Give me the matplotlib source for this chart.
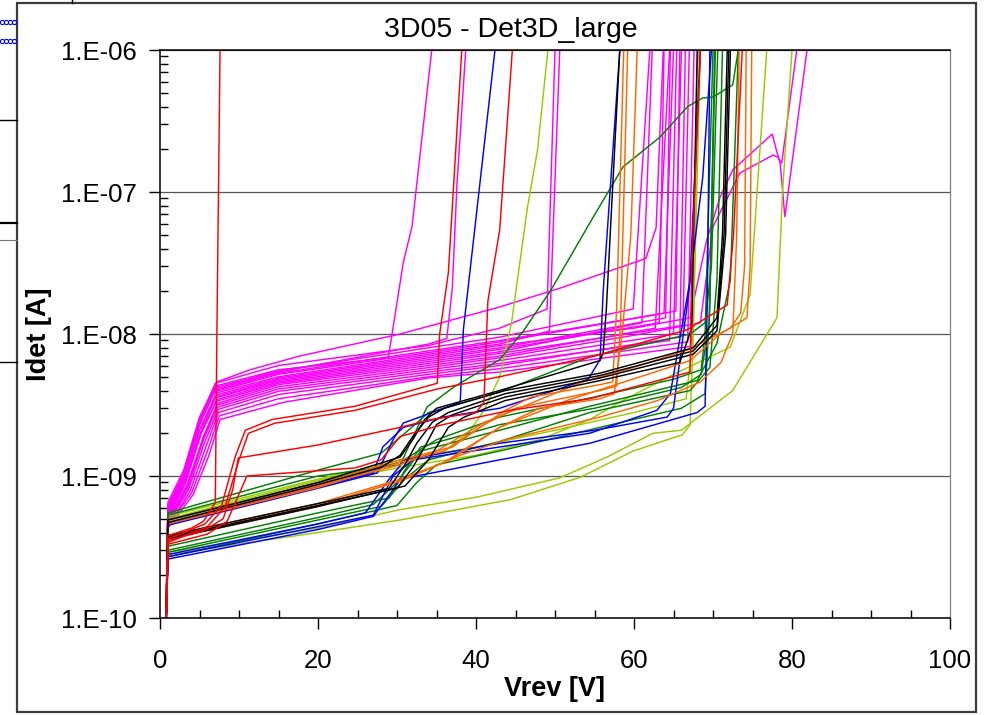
import numpy as np
import matplotlib
matplotlib.use('Agg')
import matplotlib.pyplot as plt
from matplotlib.lines import Line2D
from matplotlib.patches import Rectangle
from matplotlib.ticker import LogLocator, MultipleLocator, NullFormatter

plt.rcParams['font.family'] = ['Liberation Sans', 'DejaVu Sans']

# every sweep comes up from below the axis at ~0.7 V
START_V = 0.7
START_I = 6e-11

# curves as (Vrev [V], Idet [A]) points, one list per colour
magenta = [
    [(1, 6.5e-10), (3, 1.1e-9), (5, 2.6e-9), (7.2, 4.6e-9), (11.4, 5.6e-9), (17.7, 7.0e-9), (30.4, 1.0e-8),
     (43, 1.55e-8), (50.6, 2.1e-8), (61.5, 3.4e-8), (62.8, 5.6e-8), (63.7, 1e-6)],
    [(1, 6.0e-10), (3, 1.0e-9), (5, 2.4e-9), (7, 4.3e-9), (15, 5.6e-9), (28.9, 6.8e-9), (30.8, 3.2e-8),
     (31.9, 5.7e-8), (34.4, 1e-6)],
    [(1, 5.9e-10), (3, 1.0e-9), (5, 2.3e-9), (7, 4.1e-9), (15, 5.4e-9), (34, 8.5e-9), (36.3, 9.3e-9),
     (37, 2.1e-8), (37.6, 1.16e-7), (38.7, 1e-6)],
    [(1, 6.2e-10), (3, 1.05e-9), (5, 2.5e-9), (7, 4.5e-9), (15, 6.0e-9), (34, 8.3e-9), (43, 1.1e-8),
     (49, 1.5e-8), (50, 1e-6)],
    [(1, 5.6e-10), (3, 9.5e-10), (4.8, 2.2e-9), (6.8, 3.8e-9), (15, 5.0e-9), (34, 7.2e-9), (43, 8.5e-9),
     (49.3, 1.05e-8), (50.6, 1e-6)],
    [(1, 5.8e-10), (3, 1.0e-9), (5, 2.3e-9), (7, 4.2e-9), (15, 5.5e-9), (34, 8.0e-9), (43, 9.5e-9),
     (59.9, 1.5e-8), (62.0, 1e-6)],
    [(1, 5.0e-10), (3.2, 9.0e-10), (5.2, 2.0e-9), (7.2, 3.45e-9), (15, 4.6e-9), (34, 6.4e-9), (43, 7.5e-9),
     (61, 1.2e-8), (62.3, 1e-6)],
    [(1, 4.8e-10), (3.5, 8.5e-10), (5.5, 1.9e-9), (7.3, 3.25e-9), (15, 4.4e-9), (34, 6.0e-9), (43, 7.0e-9),
     (62.7, 1.1e-8), (64.5, 1e-6)],
    [(1, 5.3e-10), (3, 9.2e-10), (5, 2.1e-9), (7, 3.6e-9), (15, 4.8e-9), (34, 6.8e-9), (43, 8.0e-9),
     (64, 1.3e-8), (64.6, 1e-6)],
    [(1, 4.6e-10), (3.6, 8.0e-10), (5.6, 1.7e-9), (7.4, 2.95e-9), (15, 3.95e-9), (34, 5.4e-9), (43, 6.2e-9),
     (64.5, 9.0e-9), (65.4, 1e-6)],
    [(1, 5.5e-10), (2.8, 9.5e-10), (4.8, 2.2e-9), (6.8, 3.9e-9), (15, 5.2e-9), (34, 7.4e-9), (43, 8.8e-9),
     (65.3, 1.45e-8), (65.8, 1e-6)],
    [(1, 4.4e-10), (3.8, 7.8e-10), (5.8, 1.6e-9), (7.4, 2.8e-9), (15, 3.75e-9), (34, 5.2e-9), (43, 6.0e-9),
     (65.8, 9.5e-9), (66.5, 1e-6)],
    [(1, 5.1e-10), (3.2, 8.8e-10), (5.2, 2.0e-9), (7.1, 3.35e-9), (15, 4.5e-9), (34, 6.2e-9), (43, 7.3e-9),
     (66.2, 1.15e-8), (67.0, 1e-6)],
    [(1, 4.5e-10), (4, 7.6e-10), (6, 1.5e-9), (7.5, 2.65e-9), (15, 3.5e-9), (34, 5.0e-9), (43, 5.7e-9),
     (66.8, 8.8e-9), (67.6, 1e-6)],
    [(1, 4.3e-10), (4.2, 7.4e-10), (6.2, 1.4e-9), (7.6, 2.5e-9), (15.6, 3.3e-9), (34, 4.9e-9), (43, 5.4e-9),
     (67.3, 8.2e-9), (68.1, 1e-6)],
    [(1, 5.4e-10), (3, 9.2e-10), (5, 2.1e-9), (7, 3.7e-9), (15, 4.9e-9), (34, 7.0e-9), (43, 8.3e-9),
     (60, 1.1e-8), (67.1, 1.3e-8), (69.2, 4.6e-8), (70.9, 9.2e-8), (72.5, 1.43e-7), (77.5, 2.56e-7),
     (78.1, 1.9e-7), (78.5, 1.6e-7), (79.1, 6.7e-8), (81.9, 1e-6)],
    [(1, 4.9e-10), (3.4, 8.6e-10), (5.4, 1.8e-9), (7.2, 3.15e-9), (15, 4.25e-9), (34, 5.8e-9), (43, 6.8e-9),
     (60, 9.8e-9), (68.4, 1.2e-8), (70, 5.7e-8), (73.4, 1.36e-7), (77.6, 1.82e-7), (78.2, 1.76e-7),
     (78.7, 1.6e-7), (80.6, 1e-6)],
    [(1, 5.2e-10), (3.1, 9.0e-10), (5.1, 2.0e-9), (7, 3.55e-9), (15, 4.7e-9), (34, 6.6e-9), (43, 7.8e-9),
     (63.2, 1.2e-8), (63.8, 1e-6)],
    [(1, 4.7e-10), (3.5, 8.2e-10), (5.5, 1.8e-9), (7.3, 3.05e-9), (15, 4.1e-9), (34, 5.6e-9), (43, 6.5e-9),
     (65, 1.0e-8), (66, 1e-6)],
    [(1, 5.7e-10), (2.9, 1.0e-9), (4.9, 2.3e-9), (6.9, 4.0e-9), (15, 5.3e-9), (34, 7.6e-9), (43, 9.0e-9),
     (63.8, 1.4e-8), (65, 1e-6)],
]

yellowgreen = [
    [(1, 5.0e-10), (20, 9.3e-10), (30.4, 1.25e-9), (36, 1.5e-9), (39, 2.0e-9), (41, 2.9e-9), (43, 5.0e-9),
     (44.5, 1.2e-8), (46.5, 7.7e-8), (47.8, 2.0e-7), (49.1, 1e-6)],
    [(1, 4.8e-10), (20, 8.8e-10), (30.4, 1.15e-9), (40, 1.4e-9), (48, 1.8e-9), (54.4, 2.5e-9), (58.6, 3.4e-9),
     (65, 5.2e-9), (72.2, 8.1e-9), (74.7, 1.9e-8), (76.8, 1e-6)],
    [(1, 2.8e-10), (20, 4.0e-10), (30.4, 4.9e-10), (44.3, 6.8e-10), (53.2, 9.8e-10), (59.9, 1.5e-9),
     (66.1, 1.95e-9), (67.1, 2.3e-9), (67.5, 1e-8), (67.8, 1e-7), (68.1, 1e-6)],
    [(1, 2.9e-10), (20, 4.3e-10), (30.4, 5.8e-10), (40.1, 7.1e-10), (50.6, 9.7e-10), (56.6, 1.36e-9),
     (62.4, 2.0e-9), (66, 2.1e-9), (72.5, 4.0e-9), (78.1, 1.3e-8), (78.8, 1e-7), (80.0, 1e-6)],
    [(1, 5.2e-10), (20, 9.5e-10), (30.4, 1.3e-9), (40, 1.6e-9), (50, 2.1e-9), (60, 2.8e-9), (66.6, 3.5e-9),
     (67.5, 1e-8), (68.4, 1e-6)],
]

green = [
    [(1, 5.3e-10), (20, 1.0e-9), (30.4, 1.2e-9), (33.8, 3.06e-9), (37.1, 4.2e-9), (40.1, 5.3e-9), (43, 6.6e-9),
     (46, 1.05e-8), (49.4, 2.0e-8), (54.8, 6.6e-8), (58.6, 1.5e-7), (63.3, 2.44e-7), (66.8, 4.0e-7),
     (68.7, 4.6e-7), (70, 4.65e-7), (72.5, 5.7e-7), (73.2, 1e-6)],
    [(1, 5.5e-10), (20, 1.1e-9), (28, 1.45e-9), (31, 2.0e-9), (34, 2.8e-9), (43, 3.9e-9), (54.4, 6.9e-9),
     (67.1, 1.0e-8), (69, 1.2e-8), (69.8, 3e-8), (70.6, 1e-6)],
    [(1, 3.0e-10), (20, 5.1e-10), (27, 6.3e-10), (30, 9.0e-10), (33, 1.5e-9), (43, 2.1e-9), (54.4, 3.1e-9),
     (68, 4.7e-9), (70.5, 8.6e-9), (72.2, 2.4e-8), (73.2, 1e-6)],
    [(1, 2.9e-10), (20, 4.9e-10), (28, 6.1e-10), (31, 9.5e-10), (34, 1.3e-9), (43, 1.75e-9), (54.4, 2.8e-9),
     (67.1, 4.0e-9), (69.6, 5.8e-9), (70.5, 2.4e-8), (71.2, 1e-6)],
    [(1, 3.2e-10), (20, 5.5e-10), (29, 7.0e-10), (31, 1.1e-9), (33, 1.6e-9), (43, 2.3e-9), (55, 3.0e-9),
     (66, 4.2e-9), (68.5, 5.2e-9), (69.5, 1.2e-8), (70.3, 1e-6)],
    [(1, 4.9e-10), (20, 9.0e-10), (30.4, 1.25e-9), (35, 1.8e-9), (43, 2.6e-9), (55, 3.6e-9), (65, 4.8e-9),
     (68.5, 5.6e-9), (69, 1.0e-8), (70, 1e-6)],
    [(1, 2.7e-10), (20, 4.6e-10), (30, 6.2e-10), (32.5, 9.0e-10), (35, 1.2e-9), (43, 1.5e-9), (55.7, 2.2e-9),
     (66, 3.0e-9), (69, 3.8e-9), (69.6, 1.5e-8), (70.2, 1e-6)],
]

blue = [
    [(1, 4.6e-10), (20, 8.4e-10), (27, 1.05e-9), (28.2, 1.6e-9), (30.8, 2.2e-9), (35.8, 2.6e-9), (43, 3.0e-9),
     (54.2, 4.8e-9), (55.7, 6.6e-9), (56.1, 2e-8), (58.2, 1e-6)],
    [(1, 4.5e-10), (20, 8.2e-10), (27.5, 1.05e-9), (29.5, 1.8e-9), (30.8, 2.36e-9), (38, 3.3e-9),
     (38.4, 1.07e-8), (42.4, 1e-6)],
    [(1, 2.8e-10), (20, 4.6e-10), (26, 5.5e-10), (29, 9.5e-10), (31, 1.3e-9), (43, 1.7e-9), (55, 2.1e-9),
     (64.2, 2.6e-9), (65, 3.0e-9), (66.7, 1.55e-8), (68.7, 1.27e-7), (69.8, 1e-6)],
    [(1, 2.6e-10), (20, 4.2e-10), (27, 5.2e-10), (29.5, 8.0e-10), (30.4, 9.5e-10), (43, 1.3e-9), (54.4, 1.7e-9),
     (68, 2.8e-9), (69, 3.1e-9), (69.3, 2e-8), (69.6, 1e-6)],
    [(1, 2.7e-10), (20, 4.4e-10), (27, 5.3e-10), (29.5, 1.0e-9), (32, 1.3e-9), (43, 1.6e-9), (54.4, 2.0e-9),
     (62.9, 2.9e-9), (64.6, 3.8e-9), (67.1, 2.4e-8), (68.4, 1e-6)],
]

orange = [
    [(1, 4.9e-10), (20, 8.8e-10), (30.4, 1.3e-9), (37, 1.6e-9), (40, 2.1e-9), (43.7, 2.9e-9), (47, 3.6e-9),
     (55.7, 4.4e-9), (57.3, 4.6e-9), (57.8, 1.5e-8), (58.7, 1e-6)],
    [(1, 3.8e-10), (20, 6.4e-10), (30.4, 9.5e-10), (36, 1.25e-9), (39, 1.6e-9), (43, 2.2e-9), (48, 3.0e-9),
     (55.7, 3.5e-9), (57.5, 3.8e-9), (58.5, 1e-8), (59.6, 5e-8), (60.4, 1e-6)],
    [(1, 4.7e-10), (20, 8.5e-10), (30.4, 1.2e-9), (35, 1.5e-9), (40.9, 2.36e-9), (53.5, 4.6e-9), (59.9, 5.8e-9),
     (67, 7.8e-9), (72.2, 1.1e-8), (73.5, 1.4e-8), (74.0, 3e-8), (74.2, 1e-6)],
    [(1, 3.7e-10), (20, 6.2e-10), (30.4, 9.2e-10), (36.7, 1.3e-9), (43, 2.2e-9), (51.5, 3.4e-9), (67.1, 6.5e-9),
     (70.9, 1.0e-8), (74.3, 1.3e-8), (74.7, 3e-8), (74.9, 1e-6)],
    [(1, 3.6e-10), (20, 6.1e-10), (31, 9.5e-10), (38, 1.4e-9), (43.7, 1.8e-9), (55.7, 2.6e-9), (63, 3.4e-9),
     (68.4, 4.6e-9), (71, 6.3e-9), (72.5, 1.0e-8), (73.0, 5e-8), (73.3, 1e-6)],
    [(1, 4.6e-10), (20, 8.3e-10), (30.4, 1.25e-9), (36, 1.5e-9), (41, 2.3e-9), (45, 3.0e-9), (55.7, 4.0e-9),
     (57.8, 4.3e-9), (58.3, 1.2e-8), (59.2, 1e-6)],
]

black = [
    [(1, 4.9e-10), (10, 6.5e-10), (20, 9.0e-10), (30.4, 1.36e-9), (32, 1.8e-9), (33.5, 2.5e-9), (35, 3.0e-9),
     (43, 4.0e-9), (55.7, 6.5e-9), (56.1, 7.4e-9), (56.5, 1.5e-8), (58.2, 1e-6)],
    [(1, 4.7e-10), (20, 8.7e-10), (28, 1.15e-9), (30.4, 1.4e-9), (32, 1.9e-9), (34, 2.6e-9), (36, 3.0e-9),
     (43.7, 4.0e-9), (55.7, 5.3e-9), (67.5, 8.0e-9), (70.5, 1.3e-8), (71.2, 5e-8), (71.8, 1e-6)],
    [(1, 3.8e-10), (20, 6.4e-10), (29, 8.2e-10), (31, 1.2e-9), (32.5, 1.7e-9), (34.5, 2.4e-9), (36.5, 2.8e-9),
     (43.7, 3.8e-9), (55.7, 5.1e-9), (67.5, 7.6e-9), (70.5, 1.15e-8), (71.4, 5e-8), (72.0, 1e-6)],
    [(1, 3.7e-10), (20, 6.2e-10), (30, 8.2e-10), (32, 1.15e-9), (33.5, 1.6e-9), (35, 2.3e-9), (37, 2.7e-9),
     (43.7, 3.6e-9), (55.7, 4.9e-9), (67.5, 7.2e-9), (70.5, 1.05e-8), (71.6, 5e-8), (72.2, 1e-6)],
    [(1, 3.6e-10), (20, 6.1e-10), (31, 8.5e-10), (34, 1.3e-9), (36.5, 2.2e-9), (38.5, 2.6e-9),
     (43.7, 3.4e-9), (55.7, 4.7e-9), (65.8, 6.3e-9), (67.3, 1.1e-8), (68, 1e-6)],
]

red = [
    [(1, 3.8e-10), (4, 4.3e-10), (5.5, 4.8e-10), (7.0, 6.5e-10), (7.2, 1e-8), (7.4, 1e-7), (7.6, 1e-6)],
    [(1, 3.6e-10), (5.7, 4.6e-10), (7.8, 6.2e-10), (9.5, 1.36e-9), (10.8, 2.1e-9), (14.2, 2.5e-9), (24.7, 3.1e-9),
     (35.1, 4.5e-9), (35.4, 1e-8), (36.5, 2.7e-8), (38.2, 1e-6)],
    [(1, 3.4e-10), (6, 4.4e-10), (8.2, 6.0e-10), (10, 1.3e-9), (11.2, 2.0e-9), (14.5, 2.35e-9), (24.7, 2.9e-9),
     (35.1, 4.1e-9), (43, 5.0e-9), (55, 7.0e-9), (66.7, 1.07e-8), (71.8, 1.6e-8), (72.6, 5e-8), (73.7, 1e-6)],
    [(1, 3.5e-10), (5.5, 4.1e-10), (8, 5.0e-10), (9.2, 8.0e-10), (9.9, 1.34e-9), (19.9, 1.65e-9), (30.4, 2.2e-9),
     (34.4, 2.5e-9), (40, 2.8e-9), (41, 3.3e-9), (41.5, 1.7e-8), (43, 5.4e-8), (44.6, 1e-6)],
    [(1, 3.3e-10), (6, 3.9e-10), (8.5, 4.8e-10), (11, 1.0e-9), (24.7, 1.14e-9), (28, 1.3e-9), (30.4, 1.9e-9),
     (35.8, 2.3e-9), (44.3, 2.9e-9), (54.4, 3.5e-9), (67.1, 5.4e-9), (67.3, 3e-8), (68.4, 1e-6)],
]

groups = [
    (magenta, '#FF00FF'),
    (yellowgreen, '#99CC00'),
    (green, '#008000'),
    (blue, '#0000FF'),
    (orange, '#FF6600'),
    (black, '#000000'),
    (red, '#FF0000'),
]

xticks = [0, 20, 40, 60, 80, 100]
yticks = [1e-10, 1e-9, 1e-8, 1e-7, 1e-6]
ytick_labels = ['1.E-10', '1.E-09', '1.E-08', '1.E-07', '1.E-06']

W, H = 990, 715
fig = plt.figure(figsize=(W / 100, H / 100), dpi=100)
ax = fig.add_axes([160 / W, 1 - 618 / H, 790 / W, 568 / H])

for curves, col in groups:
    for c in curves:
        v = [START_V] + [p[0] for p in c]
        i = [START_I] + [p[1] for p in c]
        ax.plot(v, i, color=col, lw=1.05, solid_joinstyle='round')

ax.set_yscale('log')
ax.set_xlim(0, 100)
ax.set_ylim(1e-10, 1e-6)

ax.set_xticks(xticks)
ax.xaxis.set_minor_locator(MultipleLocator(5))
ax.set_yticks(yticks)
ax.set_yticklabels(ytick_labels)
ax.yaxis.set_minor_locator(LogLocator(base=10, subs=np.arange(2, 10)))
ax.yaxis.set_minor_formatter(NullFormatter())

ax.tick_params(which='major', direction='out', length=8, width=1, labelsize=18.5)
ax.tick_params(which='minor', direction='in', length=6, width=1)
ax.tick_params(axis='y', which='major', pad=9)
ax.tick_params(axis='x', which='major', pad=14)

ax.yaxis.grid(True, which='major', color='#555555', lw=0.9)
ax.set_axisbelow(True)

for s in ['left', 'bottom', 'top']:
    ax.spines[s].set_color('black')
    ax.spines[s].set_linewidth(1.1)
ax.spines['right'].set_color('#808080')
ax.spines['right'].set_linewidth(0.9)

ax.set_ylabel('Idet [A]', fontsize=19.5, fontweight='bold')
ax.yaxis.set_label_coords(-0.137, 0.5)
ax.set_xlabel('Vrev [V]', fontsize=19.5, fontweight='bold')
ax.xaxis.set_label_coords(0.5, -0.102)

fig.text(511 / W, 1 - 30 / H, '3D05 - Det3D_large', ha='center', va='center', fontsize=20.5)

# chart frame and the bits of the neighbouring window showing on the left
fig.add_artist(Rectangle((17 / W, 1 - 712 / H), 959 / W, 709 / H, transform=fig.transFigure,
                         fill=False, edgecolor='#3c3c3c', lw=1.6))
for yy, lc, lw in [(120, 'black', 1.0), (223, 'black', 1.6), (240, '#777777', 0.8), (362, 'black', 1.0)]:
    fig.add_artist(Line2D([0, 17 / W], [1 - yy / H] * 2, color=lc, lw=lw, transform=fig.transFigure))
fig.add_artist(Line2D([72 / W] * 2, [1, 1 - 3 / H], color='black', lw=1.0, transform=fig.transFigure))
for yy in [22, 41]:
    fig.add_artist(Line2D([x / W for x in [2, 6, 10, 14]], [1 - yy / H] * 4, ls='none', marker='o', ms=3,
                          mfc='none', mec='blue', mew=0.8, transform=fig.transFigure))

fig.savefig('out.png', dpi=100)
